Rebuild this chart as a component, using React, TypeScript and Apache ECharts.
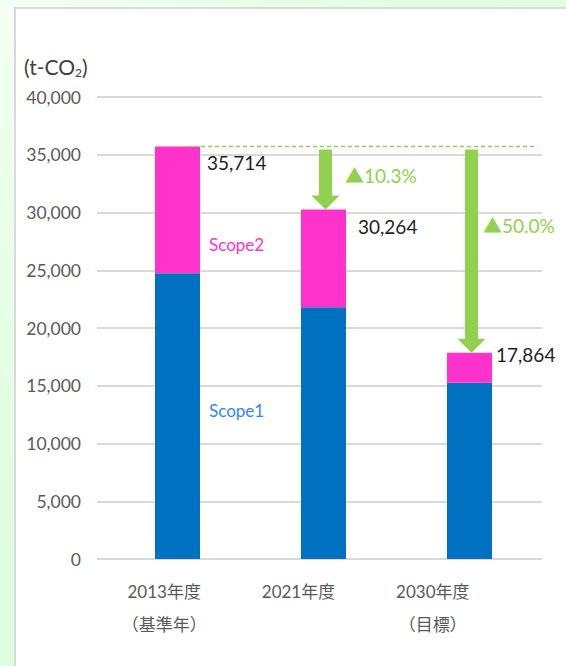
import React, { useEffect, useRef } from 'react';
import * as echarts from 'echarts';

const categories = ['2013年度\n（基準年）', '2021年度', '2030年度\n（目標）'];
const seriesNames = ['Scope1', 'Scope2'];
const scope1 = [24730, 21790, 15260];
const scope2 = [10984, 8474, 2604];
const reductionLabels = ['', '▲10.3%', '▲50.0%'];
const unitLabel = '(t-CO{s|2})';
const yMin = 0;
const yMax = 40000;
const yInterval = 5000;

const totals = scope1.map((v, i) => v + scope2[i]);
const baseTotal = totals[0];

// style constants
const FONT = "Lato, 'Noto Sans CJK JP', sans-serif";
const GREEN = '#92d050';
const BLUE = '#0070c0';
const PINK = '#ff33cc';
const BAR_W = 45;
const TOP = 97;
const BOTTOM = 107;
const totalLabelOffsets = [[7, 16], [12, 17], [4, 1.5]];
const pctLabelOffsets = [[0, 0], [19.5, 28.5], [11.5, 78.5]];

export default function App() {
  const ref = useRef<HTMLDivElement>(null);
  useEffect(() => {
    if (!ref.current) return;
    const chart = echarts.init(ref.current, undefined, { renderer: 'svg' });
    const fmt = (v: number) => v.toLocaleString('en-US');

    const option: any = {
      animation: false,
      grid: [
        { left: 97, right: 24, top: TOP, bottom: BOTTOM },
        { left: 104.5, right: 23.5, top: TOP, bottom: BOTTOM },
        { left: 97, right: 66, top: TOP, bottom: BOTTOM },
      ],
      xAxis: [
        { type: 'category', gridIndex: 0, data: categories, show: false },
        { type: 'category', gridIndex: 1, data: categories, show: false },
        {
          type: 'category',
          gridIndex: 2,
          data: categories,
          axisLine: { show: false },
          axisTick: { show: false },
          axisLabel: {
            color: '#595959',
            fontFamily: FONT,
            fontSize: 17,
            lineHeight: 33,
            margin: 16,
          },
        },
      ],
      yAxis: [
        {
          type: 'value',
          gridIndex: 0,
          min: yMin,
          max: yMax,
          interval: yInterval,
          axisLine: { show: false },
          axisTick: { show: false },
          splitLine: { lineStyle: { color: '#d9d9d9', width: 2 } },
          axisLabel: {
            color: '#595959',
            fontFamily: FONT,
            fontSize: 17.5,
            margin: 16,
            formatter: (v: number) => fmt(v),
          },
        },
        { type: 'value', gridIndex: 1, min: yMin, max: yMax, interval: yInterval, show: false, splitLine: { show: false } },
        { type: 'value', gridIndex: 2, min: yMin, max: yMax, interval: yInterval, show: false, splitLine: { show: false } },
      ],
      graphic: [
        {
          type: 'text',
          left: 24,
          top: 53,
          style: {
            text: unitLabel,
            fill: '#404040',
            font: `21px ${FONT}`,
            lineHeight: 26,
            rich: {
              s: { fontSize: 12, fontFamily: FONT, fill: '#404040', verticalAlign: 'bottom', lineHeight: 19 },
            },
          },
        },
      ],
      series: [
        {
          name: seriesNames[0],
          type: 'bar',
          xAxisIndex: 1,
          yAxisIndex: 1,
          stack: 'total',
          barWidth: BAR_W,
          itemStyle: { color: BLUE },
          data: scope1.map((v, i) =>
            i === 0
              ? {
                  value: v,
                  label: {
                    show: true,
                    position: 'right',
                    distance: 9,
                    offset: [0, -6],
                    formatter: seriesNames[0],
                    color: '#3385ff',
                    fontFamily: FONT,
                    fontSize: 17,
                  },
                }
              : v
          ),
        },
        {
          name: seriesNames[1],
          type: 'bar',
          xAxisIndex: 1,
          yAxisIndex: 1,
          stack: 'total',
          barWidth: BAR_W,
          itemStyle: { color: PINK },
          data: scope2.map((v, i) =>
            i === 0
              ? {
                  value: v,
                  label: {
                    show: true,
                    position: 'right',
                    distance: 9,
                    offset: [0, 34.5],
                    formatter: seriesNames[1],
                    color: PINK,
                    fontFamily: FONT,
                    fontSize: 17,
                  },
                }
              : v
          ),
        },
        {
          name: 'baseline',
          type: 'custom',
          xAxisIndex: 1,
          yAxisIndex: 1,
          z: 5,
          data: [[0, baseTotal]],
          renderItem: (params: any, api: any) => {
            const p = api.coord([api.value(0), api.value(1)]);
            const cs = params.coordSys;
            return {
              type: 'line',
              shape: { x1: p[0] + 9.5, y1: p[1], x2: cs.x + cs.width - 5, y2: p[1] },
              style: { stroke: GREEN, lineWidth: 1.5, lineDash: [4, 3] },
            };
          },
        },
        {
          name: 'reduction',
          type: 'custom',
          xAxisIndex: 1,
          yAxisIndex: 1,
          z: 6,
          data: totals.map((t, i) => [i, baseTotal, t]).slice(1),
          renderItem: (params: any, api: any) => {
            const ci = api.value(0);
            const p0 = api.coord([ci, api.value(1)]);
            const p1 = api.coord([ci, api.value(2)]);
            const cx = p0[0] + 2;
            const y0 = p0[1] + 3;
            const yTip = p1[1];
            const headH = 14;
            const sh = 6.5;
            const hh = 14;
            const off = pctLabelOffsets[ci];
            return {
              type: 'group',
              children: [
                {
                  type: 'polygon',
                  shape: {
                    points: [
                      [cx - sh, y0],
                      [cx + sh, y0],
                      [cx + sh, yTip - headH],
                      [cx + hh, yTip - headH],
                      [cx, yTip],
                      [cx - hh, yTip - headH],
                      [cx - sh, yTip - headH],
                    ],
                  },
                  style: { fill: GREEN },
                },
                {
                  type: 'text',
                  x: cx + off[0],
                  y: p0[1] + off[1],
                  style: {
                    text: reductionLabels[ci],
                    fill: GREEN,
                    font: `19px ${FONT}`,
                    align: 'left',
                    verticalAlign: 'middle',
                  },
                },
              ],
            };
          },
        },
        {
          name: 'totals',
          type: 'custom',
          xAxisIndex: 1,
          yAxisIndex: 1,
          z: 7,
          data: totals.map((t, i) => [i, t]),
          renderItem: (params: any, api: any) => {
            const ci = api.value(0);
            const v = api.value(1);
            const p = api.coord([ci, v]);
            const off = totalLabelOffsets[ci];
            return {
              type: 'text',
              x: p[0] + BAR_W / 2 + off[0],
              y: p[1] + off[1],
              style: {
                text: fmt(v),
                fill: '#1f1f1f',
                font: `19px ${FONT}`,
                align: 'left',
                verticalAlign: 'middle',
              },
            };
          },
        },
      ],
    };
    chart.setOption(option);
    return () => chart.dispose();
  }, []);

  return (
    <div
      style={{
        position: 'fixed',
        left: 0,
        top: 0,
        width: 566,
        height: 666,
        overflow: 'hidden',
        background: 'linear-gradient(135deg, #f4fff4 0%, #e2fde2 35%, #dcfcdc 100%)',
      }}
    >
      <div
        style={{
          position: 'absolute',
          left: 14,
          top: 7,
          width: 580,
          height: 700,
          background: '#ffffff',
          border: '2px solid #d9d9d9',
          boxSizing: 'border-box',
        }}
      />
      <div ref={ref} style={{ position: 'absolute', left: 0, top: 0, width: 566, height: 666 }} />
    </div>
  );
}
